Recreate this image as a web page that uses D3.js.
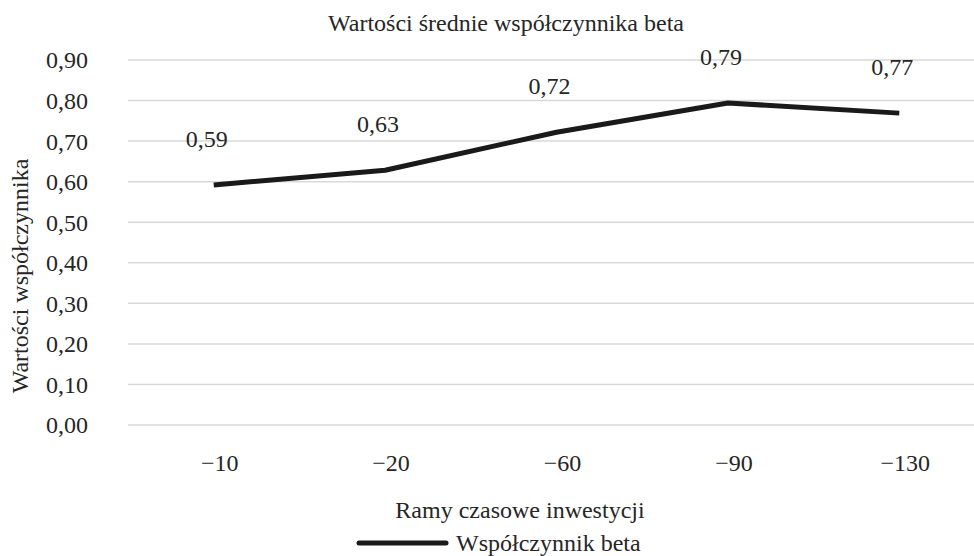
<!DOCTYPE html>
<html><head><meta charset="utf-8">
<script src="https://cdn.jsdelivr.net/npm/d3@7"></script>
<style>body{margin:0;background:#fff}svg{display:block}</style>
</head><body>
<script>
const categories = ["\u221210", "\u221220", "\u221260", "\u221290", "\u2212130"];
const betaValues = [0.592, 0.628, 0.722, 0.794, 0.769];
const yTicks = [0, 0.1, 0.2, 0.3, 0.4, 0.5, 0.6, 0.7, 0.8, 0.9];
const seriesName = "Współczynnik beta";

const W = 974, H = 556;
const FONT = "'Liberation Serif'";
const svg = d3.select("body").append("svg").attr("width", W).attr("height", H);
const ink = "#262626";
const x = d3.scaleBand().domain(categories).range([128, 985]);
const y = d3.scaleLinear().domain([0, 0.9]).range([425, 60]);
const fmt = v => d3.format(".2f")(v).replace(".", ",");
const txt = sel => sel.style("font-family", FONT).attr("fill", ink);
const cx = c => x(c) + x.bandwidth() / 2;

// gridlines
svg.append("g").selectAll("line").data(yTicks).join("line")
  .attr("x1", 128).attr("x2", W).attr("y1", d => y(d)).attr("y2", d => y(d))
  .attr("stroke", "#d9d9d9").attr("stroke-width", 1.5);

// y tick labels
svg.append("g").selectAll("text").data(yTicks).join("text").call(txt)
  .attr("x", 88).attr("y", d => y(d)).attr("dy", "0.35em")
  .attr("text-anchor", "end").attr("font-size", 24).text(d => fmt(d));

// x tick labels
svg.append("g").selectAll("text").data(categories).join("text").call(txt)
  .attr("x", d => cx(d) + 6).attr("y", 471)
  .attr("text-anchor", "middle").attr("font-size", 24).text(d => d);

// line
const line = d3.line().x((d, i) => cx(categories[i])).y(d => y(d));
svg.append("path").datum(betaValues).attr("d", line)
  .attr("fill", "none").attr("stroke", "#1a1a1a").attr("stroke-width", 5)
  .attr("stroke-linejoin", "round");

// data labels
svg.append("g").selectAll("text").data(betaValues).join("text").call(txt)
  .attr("x", (d, i) => cx(categories[i]) - 7)
  .attr("y", d => y(d) - 38)
  .attr("text-anchor", "middle").attr("font-size", 24).text(d => fmt(d));

// title
svg.append("text").call(txt).attr("x", 506).attr("y", 31).attr("text-anchor", "middle")
  .attr("font-size", 24).text("Wartości średnie współczynnika beta");

// axis titles
svg.append("text").call(txt).attr("x", 520).attr("y", 518).attr("text-anchor", "middle")
  .attr("font-size", 24).text("Ramy czasowe inwestycji");
svg.append("text").call(txt).attr("transform", "translate(28,276) rotate(-90)")
  .attr("text-anchor", "middle").attr("font-size", 24).text("Wartości współczynnika");

// legend
svg.append("line").attr("x1", 359).attr("x2", 446).attr("y1", 543).attr("y2", 543)
  .attr("stroke", "#1a1a1a").attr("stroke-width", 5).attr("stroke-linecap", "round");
svg.append("text").call(txt).attr("x", 456).attr("y", 551).attr("font-size", 24).text(seriesName);
</script>
</body></html>
